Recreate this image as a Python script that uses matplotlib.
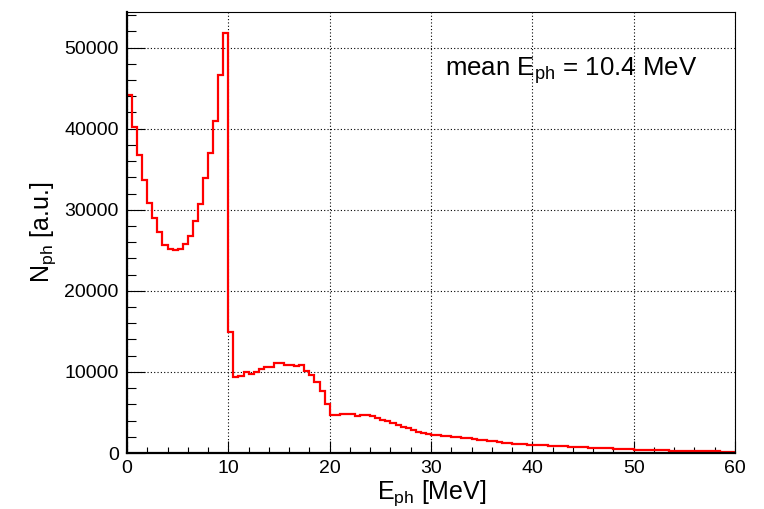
import numpy as np
import matplotlib
matplotlib.use("Agg")
import matplotlib.pyplot as plt
from matplotlib.ticker import MultipleLocator

plt.rcParams['font.family'] = ['Liberation Sans', 'DejaVu Sans']
plt.rcParams['mathtext.fontset'] = 'custom'
plt.rcParams['mathtext.rm'] = 'Liberation Sans'
plt.rcParams['mathtext.it'] = 'Liberation Sans:italic'

# Histogram: 0.5 MeV bins from 0 to 60 MeV
bin_width = 0.5
e_min, e_max = 0.0, 60.0
counts = [
    # 0 - 10 MeV
    44200, 40200, 36700, 33700, 30800, 29000, 27200, 25700, 25200, 25000,
    25200, 25750, 26750, 28600, 30700, 33900, 37000, 41000, 46600, 51800,
    # 10 - 20 MeV
    14950, 9400, 9450, 10000, 9700, 10050, 10400, 10600, 10600, 11050,
    11150, 10900, 10850, 10700, 10900, 10150, 9650, 8800, 7600, 6100,
    # 20 - 30 MeV
    4700, 4700, 4750, 4750, 4750, 4600, 4720, 4720, 4520, 4270,
    4100, 3900, 3690, 3450, 3240, 3080, 2830, 2590, 2420, 2340,
    # 30 - 40 MeV
    2260, 2180, 2090, 2050, 2000, 1930, 1850, 1810, 1720, 1640,
    1560, 1520, 1440, 1350, 1280, 1230, 1160, 1110, 1070, 1040,
    # 40 - 50 MeV
    1010, 980, 950, 910, 880, 850, 810, 780, 750, 720,
    700, 670, 640, 610, 590, 560, 540, 510, 480, 450,
    # 50 - 60 MeV
    430, 410, 390, 370, 350, 330, 310, 300, 280, 270,
    250, 240, 230, 220, 210, 200, 190, 180, 175, 165,
]
mean_text = r"mean $\mathrm{E_{ph}}$ = 10.4 MeV"
x_label = r"$\mathrm{E_{ph}}$ [MeV]"
y_label = r"$\mathrm{N_{ph}}$ [a.u.]"

edges = np.arange(len(counts) + 1) * bin_width + e_min

fig = plt.figure(figsize=(7.64, 5.09), dpi=100)
ax = fig.add_axes([127/764, 1-453/509, 608/764, 441/509])

ax.stairs(counts, edges, baseline=None, color='#ff0000', linewidth=1.6)

ax.set_xlim(e_min, e_max)
ax.set_ylim(0, max(counts) * 1.05)

ax.xaxis.set_major_locator(MultipleLocator(10))
ax.xaxis.set_minor_locator(MultipleLocator(2))
ax.yaxis.set_major_locator(MultipleLocator(10000))
ax.yaxis.set_minor_locator(MultipleLocator(2000))

ax.grid(True, which='major', linestyle=(0, (1, 2)), color='black', linewidth=0.8)
ax.set_axisbelow(True)

ax.tick_params(axis='both', which='both', direction='in', top=False, right=False,
               labelsize=14, colors='black', width=0.8)
ax.tick_params(axis='x', which='major', length=8.5, pad=5)
ax.tick_params(axis='x', which='minor', length=4.5)
ax.tick_params(axis='y', which='major', length=13, pad=6)
ax.tick_params(axis='y', which='minor', length=6.5)

for side in ['left', 'bottom']:
    ax.spines[side].set_linewidth(1.6)
for side in ['top', 'right']:
    ax.spines[side].set_linewidth(0.8)

ax.text(0.523, 0.855, mean_text, transform=ax.transAxes, ha='left', va='baseline',
        fontsize=18.6)

fig.text(432/764, 1-499/509, x_label, ha='center', va='baseline', fontsize=18)
fig.text(43/764, 1-232/509, y_label, ha='center', va='center', rotation=90, fontsize=18)

fig.savefig('out.png', dpi=100)
